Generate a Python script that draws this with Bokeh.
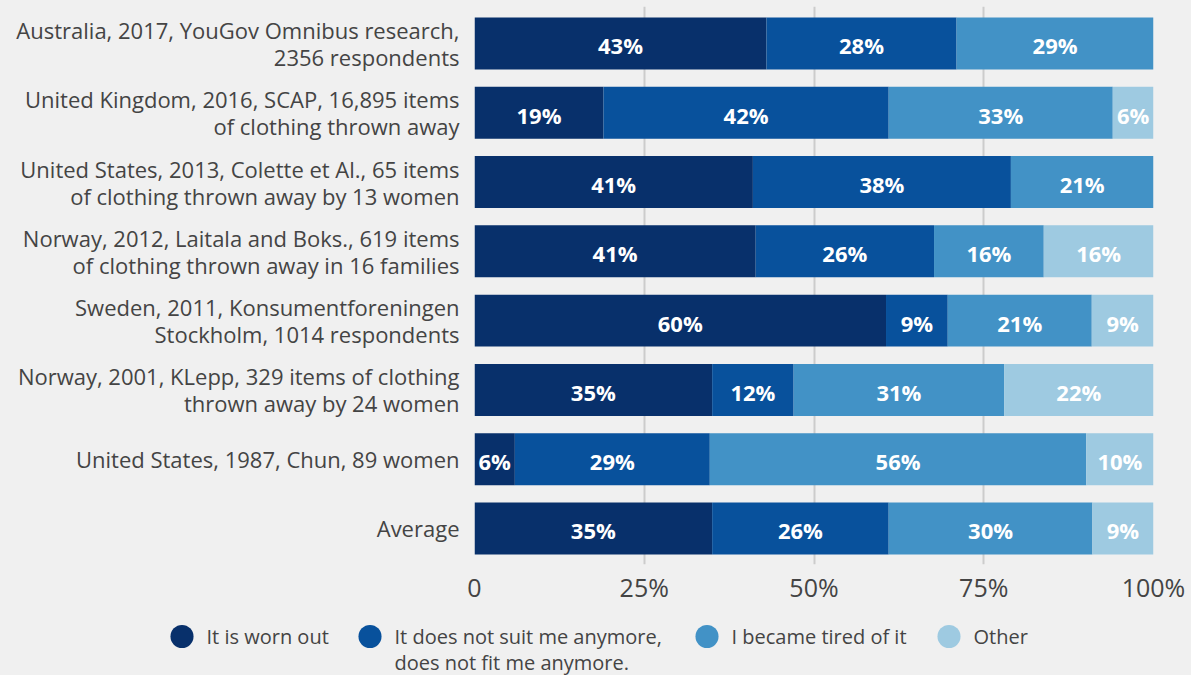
from bokeh.plotting import figure
from bokeh.models import ColumnDataSource, FixedTicker, Range1d
from bokeh.core.properties import value
from bokeh.embed import file_html
from bokeh.resources import INLINE

# ---------------- data ----------------
studies = [
    "Australia, 2017, YouGov Omnibus research,\n2356 respondents",
    "United Kingdom, 2016, SCAP, 16,895 items\nof clothing thrown away",
    "United States, 2013, Colette et Al., 65 items\nof clothing thrown away by 13 women",
    "Norway, 2012, Laitala and Boks., 619 items\nof clothing thrown away in 16 families",
    "Sweden, 2011, Konsumentforeningen\nStockholm, 1014 respondents",
    "Norway, 2001, KLepp, 329 items of clothing\nthrown away by 24 women",
    "United States, 1987, Chun, 89 women",
    "Average",
]
worn_out = [43, 19, 41, 41, 60, 35, 6, 35]
not_fit = [28, 42, 38, 26, 9, 12, 29, 26]
tired = [29, 33, 21, 16, 21, 31, 56, 30]
other = [0, 6, 0, 16, 9, 22, 10, 9]
series_names = [
    "It is worn out",
    "It does not suit me anymore,\ndoes not fit me anymore.",
    "I became tired of it",
    "Other",
]
x_ticks = [0, 25, 50, 75, 100]
x_tick_labels = ["0", "25%", "50%", "75%", "100%"]

# ---------------- style ----------------
colors = ["#08306b", "#08519c", "#4292c6", "#9ecae1"]
BG = "#f0f0f0"
FONT = "Open Sans"
TXT = "#444444"
W, H = 1191, 675
FL, FR, FT, FB = 474, 1153, 6, 564          # frame edges in page pixels
Y0, Y1 = -0.534, 7.52                        # y range (top, bottom)

series = [worn_out, not_fit, tired, other]
keys = ["s0", "s1", "s2", "s3"]
rows = list(range(len(studies)))

# normalise each row so the stacked bar fills 0..100
norm = {k: [] for k in keys}
for i in rows:
    tot = sum(s[i] for s in series)
    for k, s in zip(keys, series):
        norm[k].append(s[i] * 100.0 / tot)
src = ColumnDataSource(dict(y=rows, **norm))

# value label positions (segment centres)
lx, ly, lt = [], [], []
for i in rows:
    left = 0.0
    for k, s in zip(keys, series):
        w = norm[k][i]
        if s[i] > 0:
            lx.append(left + w / 2)
            ly.append(i)
            lt.append(f"{s[i]}%")
        left += w
lab_src = ColumnDataSource(dict(x=lx, y=ly, t=lt))

# category tick labels: one tick per text line
LINE = 0.39
y_ticks, y_over = [], {}
for i, s in enumerate(studies):
    parts = s.split("\n")
    n = len(parts)
    for j, part in enumerate(parts):
        t = round(i + (j - (n - 1) / 2) * LINE, 4)
        y_ticks.append(t)
        y_over[t] = part

p = figure(
    width=W, height=H,
    x_range=Range1d(0, 100), y_range=Range1d(Y1, Y0),
    output_backend="svg", toolbar_location=None,
    min_border_left=FL, min_border_right=W - FR, min_border_top=FT, min_border_bottom=H - FB,
    background_fill_color=BG, border_fill_color=BG, outline_line_color=None,
)

p.hbar_stack(keys, y="y", height=0.75, color=colors, line_color=None, source=src)

p.text(x="x", y="y", text="t", source=lab_src, text_color="white",
       text_font=value(FONT), text_font_style="bold", text_font_size="22px",
       text_align="center", text_baseline="middle", y_offset=2)

# axes
p.xaxis.ticker = FixedTicker(ticks=x_ticks)
p.xaxis.major_label_overrides = {t: l for t, l in zip(x_ticks, x_tick_labels)}
p.xaxis.axis_line_color = None
p.xaxis.major_tick_line_color = None
p.xaxis.minor_tick_line_color = None
p.xaxis.major_label_text_font = FONT
p.xaxis.major_label_text_font_size = "25px"
p.xaxis.major_label_text_color = TXT
p.xaxis.major_label_standoff = -1

p.yaxis.ticker = FixedTicker(ticks=y_ticks)
p.yaxis.major_label_overrides = y_over
p.yaxis.axis_line_color = None
p.yaxis.major_tick_line_color = None
p.yaxis.minor_tick_line_color = None
p.yaxis.major_label_text_font = FONT
p.yaxis.major_label_text_font_size = "22px"
p.yaxis.major_label_text_color = TXT
p.yaxis.major_label_standoff = 9

p.xgrid.ticker = FixedTicker(ticks=x_ticks)
p.xgrid.grid_line_color = "#cccccc"
p.xgrid.grid_line_width = 2
p.ygrid.grid_line_color = None

# ---------------- legend (below the axis) ----------------
def px2x(px):
    return (px - FL) / (FR - FL) * 100.0

def py2y(py):
    return Y0 + (py - FT) / (FB - FT) * (Y1 - Y0)

dot_px = [181.5, 369.5, 706.5, 948.5]
dot_py = 636
# round-capped, almost zero-length strokes give the legend dots
for xd, c in zip(dot_px, colors):
    cx, cy = px2x(xd), py2y(dot_py)
    p.line(x=[cx - 0.005, cx + 0.005], y=[cy, cy], line_color=c, line_width=23,
           line_cap="round", level="overlay")

tx, ty, tt = [], [], []
for xd, name in zip(dot_px, series_names):
    for j, line in enumerate(name.split("\n")):
        tx.append(px2x(xd + 24.5))
        ty.append(py2y(dot_py + 26 * j))
        tt.append(line)
p.text(x=tx, y=ty, text=tt, text_font=value(FONT), text_font_size="20px",
       text_color=TXT, text_align="left", text_baseline="middle", level="overlay")

html = file_html(p, INLINE)
html = html.replace("<head>", "<head><style>html,body{background-color:%s;}</style>" % BG, 1)
open("out.html", "w").write(html)
